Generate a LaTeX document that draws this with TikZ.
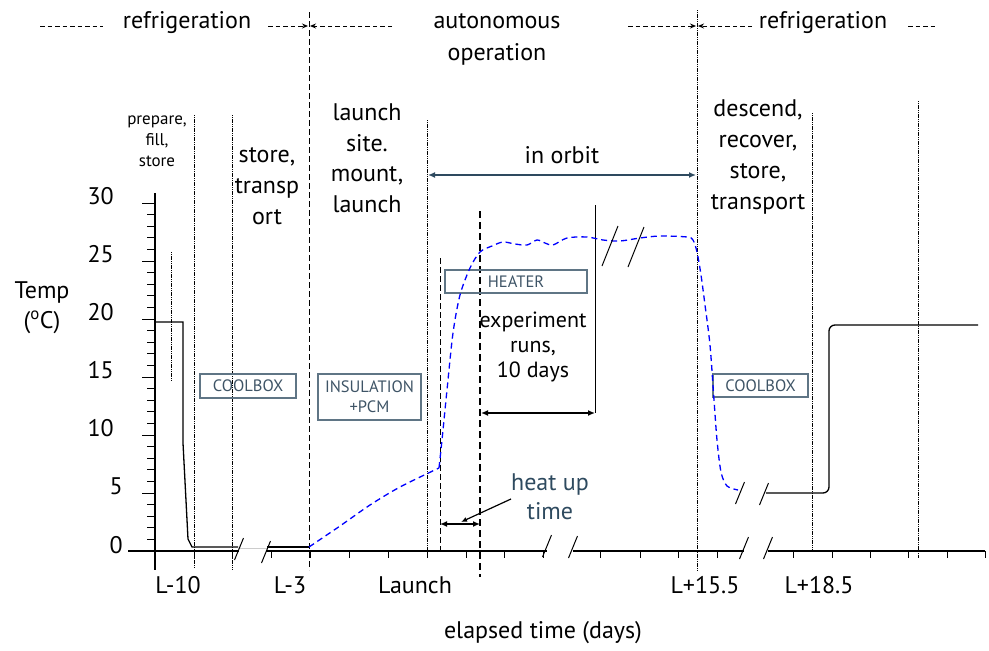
\documentclass[tikz,border=0pt]{standalone}
\usepackage{fontspec}
\setmainfont{PT Sans}
\usetikzlibrary{arrows.meta}

\definecolor{slate}{HTML}{2E4A5F}
\definecolor{boxline}{HTML}{5F7585}
\definecolor{boxtext}{HTML}{3E5466}

\begin{document}
\begin{tikzpicture}[
  x=1pt, y=-1pt,
  font=\fontsize{24}{30}\selectfont,
  lbl/.style={align=center, inner sep=0pt},
  small/.style={font=\fontsize{17}{21}\selectfont},
  tag/.style={draw=boxline, line width=1.1pt, text=boxtext, inner sep=0pt,
    font=\fontsize{16.5}{20}\selectfont, align=center},
  axis/.style={line width=1.2pt},
  tick/.style={line width=0.9pt},
  phase/.style={line width=0.8pt, dash pattern=on 1.2pt off 0.6pt},
  cut/.style={line width=0.9pt, dash pattern=on 6pt off 3pt},
  hdr/.style={line width=0.9pt, dash pattern=on 4.5pt off 3pt},
  temp/.style={line width=1.3pt},
  model/.style={blue, line width=1.3pt, dash pattern=on 6pt off 4pt},
  brk/.style={line width=1pt},
  span/.style={{Latex[length=7pt,width=6pt]}-{Latex[length=7pt,width=6pt]}, line width=1.6pt},
  tipr/.style={-{Stealth[length=6pt,width=5pt]}}
]
\useasboundingbox (0,0) rectangle (989,651);

% phase boundaries
\foreach \x/\a/\b in {171/252/380, 194/115/568, 232/115/570, 427/120/551,
                      697/10/570, 812/113/552, 918/101/558}
  \draw[phase] (\x,\a) -- (\x,\b);
\draw[cut] (309,12) -- (309,570);
\draw[cut] (440,258) -- (440,553);
\draw[cut, line width=1.5pt, dash pattern=on 7pt off 4pt] (480,211) -- (480,577);
\draw[line width=0.8pt] (595,205) -- (595,413);

% header
\coordinate (h1) at (40,26);   \coordinate (h2) at (103,26);
\coordinate (h3) at (268,26);  \coordinate (h4) at (308,26);
\coordinate (h5) at (392,26);  \coordinate (h6) at (310,26);
\coordinate (h7) at (628,26);  \coordinate (h8) at (696,26);
\coordinate (h9) at (752,26);  \coordinate (h10) at (698,26);
\coordinate (h11) at (908,26); \coordinate (h12) at (938,26);
\draw[hdr] (h1) -- (h2);
\draw[hdr, tipr] (h3) -- (h4);
\draw[hdr, tipr] (h5) -- (h6);
\draw[hdr, tipr] (h7) -- (h8);
\draw[hdr, tipr] (h9) -- (h10);
\draw[hdr] (h11) -- (h12);
\node[lbl] (refl) at (187,23) {refrigeration};
\node[lbl, font=\fontsize{24}{32}\selectfont] (auto) at (497,39) {autonomous\\operation};
\node[lbl] (refr) at (823,23) {refrigeration};

% phase labels
\node[lbl, small] (prep) at (157,141) {prepare,\\fill,\\store};
\node[lbl, font=\fontsize{24}{31}\selectfont] (stor) at (267,186) {store,\\transp\\ort};
\node[lbl, font=\fontsize{24}{30.5}\selectfont] (site) at (367,158) {launch\\site.\\mount,\\launch};
\node[lbl] (orbt) at (562,155) {in orbit};
\node[lbl, font=\fontsize{24}{31}\selectfont] (desc) at (758,157) {descend,\\recover,\\store,\\transport};
\coordinate (o1) at (428,175); \coordinate (o2) at (696,175);
\draw[span, slate] (o1) -- (o2);

% boxes
\node[tag, minimum width=96pt, minimum height=24pt] (cb1) at (248,386) {COOLBOX};
\node[tag, minimum width=103pt, minimum height=46pt] (ins) at (369.5,397) {INSULATION\\+PCM};
\node[tag, minimum width=142pt, minimum height=23pt] (heat) at (516,281.5) {HEATER};
\node[tag, minimum width=95pt, minimum height=23pt] (cb2) at (760.5,385.5) {COOLBOX};

% axes
\draw[axis] (155,193) -- (155,570);
\draw[axis] (128,551) -- (239,551);
\draw[axis] (266,551) -- (547,551);
\draw[axis] (573,551) -- (744,551);
\draw[axis] (768,551) -- (985,551);
\foreach \v in {0,...,30}
  \draw[tick] (147,551-11.6*\v) -- (155,551-11.6*\v);
\foreach \v in {0,5,...,30}
  \draw[tick] (142,551-11.6*\v) -- (155,551-11.6*\v);
\foreach \v in {10,15,20,25,30}
  \node[lbl, anchor=east] (y\v) at (114,544-11.6*\v) {\v};
\node[lbl, anchor=east] (y5) at (123,486) {5};
\node[lbl, anchor=east] (y0) at (123,545) {0};
\foreach \x in {194,232,271,310,349,388,427,466,504,543,
                600,640,678,717,793,832,870,908,947,985}
  \draw[tick] (\x,551) -- (\x,558);
\node[lbl] (ax) at (42,308) {Temp\\(\textsuperscript{o}C)};

% axis labels
\node[lbl] (tl10) at (178,585) {L-10};
\node[lbl] (tl3) at (290,585) {L-3};
\node[lbl] (tl0) at (415,585) {Launch};
\node[lbl] (tp15) at (705,585) {L+15.5};
\node[lbl] (tp18) at (819,585) {L+18.5};
\node[lbl] (xt) at (543,633) {elapsed time (days)};

% measured temperature
\draw[temp] (156,322) -- (183,322) -- (183,443) -- (188,539) -- (192,547) -- (238,547);
\draw[gray!40, line width=0.6pt] (238,548) -- (267,548);
\draw[temp] (267,547) -- (309,547);
\draw[temp, rounded corners=6pt] (766,493) -- (829,493) -- (829,325) -- (978,325);

% predicted temperature
\draw[model] plot[smooth, tension=0.5] coordinates {
  (309,547) (340,526) (370,505) (400,487) (439,468)};
\draw[model] plot[smooth, tension=0.5] coordinates {
  (439,468) (442,440) (447,390) (453,333) (460,295) (470,268) (480,252)
  (492,246) (503,242) (515,244) (527,245) (537,240) (545,243) (553,245)
  (567,238) (587,237) (603,240) (620,241) (640,238) (660,236) (687,237)
  (693,240) (697,252) (701,275) (705,305) (710,345) (714,400) (717,440)
  (721,472) (727,486) (738,490)};

% breaks
\foreach \x/\y in {239/549, 266/552, 547/546, 573/547, 744/548, 768/548,
                   740/493, 764/494}
  \draw[brk] (\x-4.5,\y+11) -- (\x+4.5,\y-11);
\foreach \x/\y in {610/246, 636/247}
  \draw[brk] (\x-8,\y+20) -- (\x+8,\y-20);

% experiment and heat-up spans
\node[lbl, font=\fontsize{22}{25}\selectfont] (exp) at (533,347) {experiment\\runs,\\10 days};
\coordinate (e1) at (481,413); \coordinate (e2) at (595,413);
\draw[span] (e1) -- (e2);
\node[lbl, slate, font=\fontsize{24}{29}\selectfont] (hut) at (550,497) {heat up\\time};
\coordinate (u1) at (440,524); \coordinate (u2) at (480,524);
\draw[span, line width=1.4pt] (u1) -- (u2);
\coordinate (p1) at (511,499); \coordinate (p2) at (461,522);
\draw[-{Latex[length=6pt,width=5pt]}, line width=1.2pt] (p1) -- (p2);

\end{tikzpicture}
\end{document}
